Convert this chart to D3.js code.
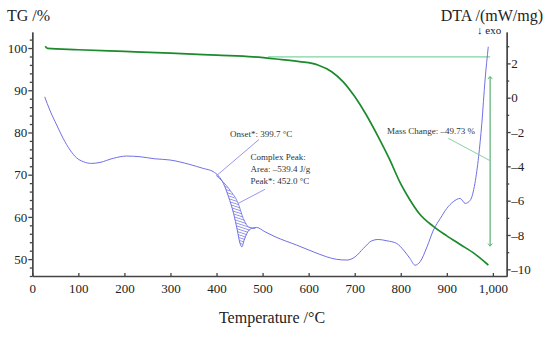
<!DOCTYPE html>
<html>
<head>
<meta charset="utf-8">
<script src="https://cdn.jsdelivr.net/npm/d3@7"></script>
<style>
  body { margin: 0; background: #fff; }
  svg { font-family: "Liberation Serif", "DejaVu Serif", serif; }
  .axis path, .axis line { stroke: #444; stroke-width: 1.3; }
  .ann { font-size: 9px; fill: #333; }
</style>
</head>
<body>
<div id="graph"></div>
<script>
// TG curve (temperature °C, mass %)
var tgTemp = [28, 33, 100, 200, 300, 400, 480, 530, 580, 620, 650, 675, 700, 725, 750, 775, 800, 820, 840, 870, 900, 930, 960, 990]
var tgMass = [100.4, 99.9, 99.6, 99.2, 98.8, 98.3, 97.9, 97.4, 96.8, 96.0, 94.4, 92.0, 88.5, 84.2, 79.2, 73.8, 67.8, 64.0, 60.8, 57.8, 55.5, 53.4, 51.3, 48.6]

// DTA curve (temperature °C, mW/mg)
var dtaTemp = [27, 38, 53, 67, 82, 96, 111, 129, 147, 176, 205, 234, 266, 299, 342, 371, 393, 404, 415, 426, 437, 445, 451, 455, 460, 466, 476, 487, 505, 527, 574, 610, 639, 661, 683, 701, 719, 737, 751, 770, 791, 806, 820, 831, 842, 857, 871, 886, 900, 914, 929, 940, 951, 961, 969, 976, 983, 990]
var dtaSignal = [0.05, -0.72, -1.59, -2.37, -3.05, -3.5, -3.73, -3.83, -3.77, -3.53, -3.40, -3.44, -3.56, -3.63, -3.89, -4.12, -4.31, -4.55, -5.0, -5.77, -6.74, -7.71, -8.49, -8.69, -8.3, -7.9, -7.62, -7.56, -7.81, -8.1, -8.59, -8.98, -9.27, -9.42, -9.46, -9.27, -8.78, -8.34, -8.26, -8.34, -8.49, -8.88, -9.37, -9.76, -9.56, -8.69, -7.71, -7.03, -6.45, -6.06, -5.87, -6.16, -5.97, -4.99, -3.44, -1.49, 1.03, 2.97]

// peak baseline of the complex peak
var baseTemp = [400, 429, 447, 458, 469, 484]
var baseSignal = [-4.55, -5.38, -6.16, -7.03, -7.52, -7.62]

var onsetTemp = 399.7
var massStart = 97.9
var massEnd = 48.2
var massFrom = 512
var massAt = 994

var tempTicks = d3.range(0, 1001, 100)
var tgTicks = [50, 60, 70, 80, 90, 100]
var tgMinor = d3.range(46, 103, 2).filter(d => d % 10)
var dtaTicks = [-10, -8, -6, -4, -2, 0, 2]
var dtaMinor = [-9, -7, -5, -3, -1, 1, 3]

var W = 550, H = 337
var svg = d3.select('#graph').append('svg').attr('width', W).attr('height', H)

var x = d3.scaleLinear().domain([0, 1030]).range([32.3, 506.7])
var yTG = d3.scaleLinear().domain([46, 103.8]).range([276, 32])
var yDTA = d3.scaleLinear().domain([-10.39, 3.83]).range([276, 32])

var dash = d => d < 0 ? '\u2013' + Math.abs(d) : '' + d
var serifText = g => g.attr('font-family', null).attr('font-size', null)
  .selectAll('text').style('font-family', '"Liberation Serif", serif').style('font-size', '13px').attr('fill', '#222')

// axes
svg.append('g').attr('class', 'axis').attr('transform', 'translate(0,276)')
  .call(d3.axisBottom(x).tickValues(tempTicks).tickSize(-3).tickSizeOuter(0).tickPadding(7))
  .call(serifText)
  .call(g => g.selectAll('text').attr('dy', '0.75em'))

svg.append('g').attr('class', 'axis').attr('transform', 'translate(32.3,0)')
  .call(d3.axisLeft(yTG).tickValues(tgMinor).tickSize(2.5).tickSizeOuter(0).tickFormat(''))
svg.append('g').attr('class', 'axis').attr('transform', 'translate(32.3,0)')
  .call(d3.axisLeft(yTG).tickValues(tgTicks).tickSize(4).tickSizeOuter(0).tickPadding(1))
  .call(serifText)

svg.append('g').attr('class', 'axis').attr('transform', 'translate(506.7,0)')
  .call(d3.axisRight(yDTA).tickValues(dtaMinor).tickSize(2.5).tickSizeOuter(0).tickFormat(''))
svg.append('g').attr('class', 'axis').attr('transform', 'translate(506.7,0)')
  .call(d3.axisRight(yDTA).tickValues(dtaTicks).tickSize(4).tickSizeOuter(0).tickPadding(0.5).tickFormat(dash))
  .call(serifText)

// titles
svg.append('text').attr('x', 7).attr('y', 21).style('font-size', '16px').attr('fill', '#222').text('TG /%')
svg.append('text').attr('x', 543).attr('y', 21).attr('text-anchor', 'end').style('font-size', '16px').attr('fill', '#222').text('DTA /(mW/mg)')
svg.append('text').attr('x', 477).attr('y', 34).style('font-size', '11px').attr('fill', '#222').text('\u2193 exo')
svg.append('text').attr('x', 272).attr('y', 323).attr('text-anchor', 'middle').style('font-size', '16px').attr('fill', '#222').text('Temperature /\u00b0C')

// hatch pattern
var defs = svg.append('defs')
defs.append('pattern').attr('id', 'hatch').attr('patternUnits', 'userSpaceOnUse')
  .attr('width', 6).attr('height', 2.6).attr('patternTransform', 'rotate(18)')
  .append('line')
  .attr('x1', 0).attr('x2', 6).attr('y1', 1.3).attr('y2', 1.3)
  .attr('stroke', '#6a6ae4').attr('stroke-width', 0.7)

var mk = (id, path) => defs.append('marker').attr('id', id)
  .attr('viewBox', '0 0 10 10').attr('refX', 5).attr('refY', 5)
  .attr('markerWidth', 5).attr('markerHeight', 5).attr('orient', 'auto')
  .append('path').attr('d', path).attr('fill', 'none').attr('stroke', '#4aa868').attr('stroke-width', 1.5)
mk('arrowEnd', 'M1,1L6,5L1,9')
mk('arrowStart', 'M9,1L4,5L9,9')

var dta = dtaTemp.map((t, i) => [t, dtaSignal[i]])
var base = baseTemp.map((t, i) => [t, baseSignal[i]])
var tg = tgTemp.map((t, i) => [t, tgMass[i]])

// hatched peak area
var poly = [base[0]].concat(dta.filter(d => d[0] > baseTemp[0] && d[0] < baseTemp[baseTemp.length - 1]))
  .concat(base.slice().reverse())
svg.append('path')
  .attr('d', d3.line().x(d => x(d[0])).y(d => yDTA(d[1]))(poly) + 'Z')
  .attr('fill', 'url(#hatch)').attr('stroke', 'none')
svg.append('path')
  .attr('d', d3.line().x(d => x(d[0])).y(d => yDTA(d[1])).curve(d3.curveMonotoneX)(base))
  .attr('fill', 'none').attr('stroke', '#6a6ae4').attr('stroke-width', 0.8)

// mass change markers
svg.append('line')
  .attr('x1', x(massFrom)).attr('x2', x(massAt))
  .attr('y1', yTG(massStart)).attr('y2', yTG(massStart))
  .attr('stroke', '#7fd3a0').attr('stroke-width', 1.3)
svg.append('line')
  .attr('x1', x(massAt)).attr('x2', x(massAt))
  .attr('y1', yTG(massStart) + 20).attr('y2', yTG(massEnd) - 21)
  .attr('stroke', '#4aa868').attr('stroke-width', 1.1)
  .attr('marker-start', 'url(#arrowStart)').attr('marker-end', 'url(#arrowEnd)')

// curves
svg.append('path')
  .attr('d', d3.line().x(d => x(d[0])).y(d => yDTA(d[1])).curve(d3.curveMonotoneX)(dta))
  .attr('fill', 'none').attr('stroke', '#7070e6').attr('stroke-width', 1)
svg.append('path')
  .attr('d', d3.line().x(d => x(d[0])).y(d => yTG(d[1])).curve(d3.curveMonotoneX)(tg))
  .attr('fill', 'none').attr('stroke', '#1b8a2c').attr('stroke-width', 1.7)

// annotations
svg.append('line').attr('x1', 259).attr('y1', 139.5).attr('x2', x(onsetTemp)).attr('y2', yDTA(baseSignal[0]))
  .attr('stroke', '#7c7ce8').attr('stroke-width', 0.8)
svg.append('text').attr('class', 'ann').attr('x', 230).attr('y', 137).text('Onset*: 399.7 \u00b0C')

svg.append('line').attr('x1', 265).attr('y1', 189.3).attr('x2', x(baseTemp[2])).attr('y2', yDTA(baseSignal[2]))
  .attr('stroke', '#7c7ce8').attr('stroke-width', 0.8)
var pk = svg.append('text').attr('class', 'ann')
;['Complex Peak:', 'Area: \u2013539.4 J/g', 'Peak*: 452.0 \u00b0C'].forEach((s, i) => {
  pk.append('tspan').attr('x', 250.5).attr('y', 159.5 + i * 12).text(s)
})

svg.append('line').attr('x1', 448.3).attr('y1', 138.3).attr('x2', x(massAt)).attr('y2', 160.7)
  .attr('stroke', '#7fc8a0').attr('stroke-width', 0.9)
svg.append('text').attr('class', 'ann').attr('x', 387).attr('y', 134).text('Mass Change: \u201349.73 %')
</script>
</body>
</html>
